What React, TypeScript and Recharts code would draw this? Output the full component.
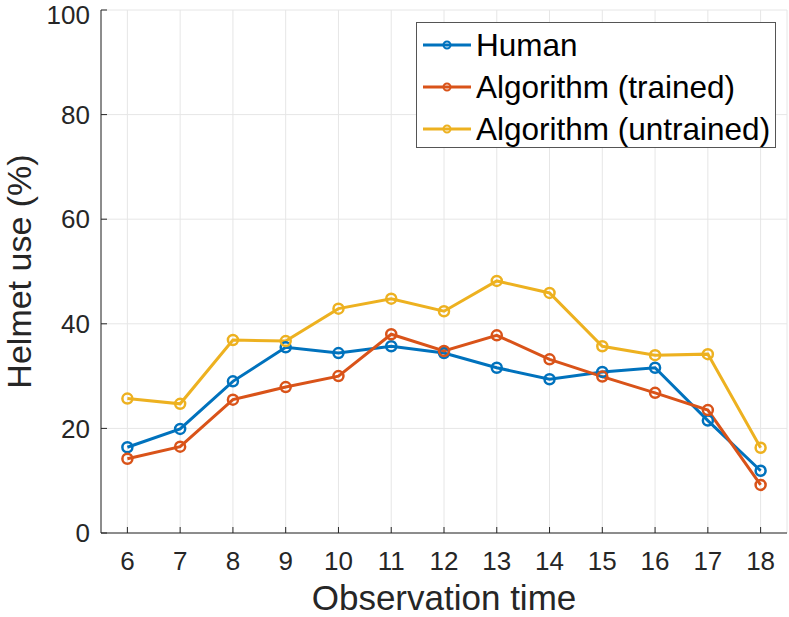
import { CartesianGrid, Legend, Line, LineChart, XAxis, YAxis } from 'recharts';

const times = [6, 7, 8, 9, 10, 11, 12, 13, 14, 15, 16, 17, 18];
const human = [16.4, 19.9, 29.0, 35.5, 34.4, 35.7, 34.4, 31.6, 29.4, 30.8, 31.6, 21.5, 11.9];
const trained = [14.2, 16.5, 25.5, 27.9, 30.0, 38.0, 34.8, 37.8, 33.2, 29.9, 26.8, 23.5, 9.2];
const untrained = [25.7, 24.7, 36.9, 36.7, 42.9, 44.8, 42.4, 48.2, 45.9, 35.7, 34.0, 34.2, 16.3];
const yTicks = [0, 20, 40, 60, 80, 100];

const series = [
  { key: 'human', name: 'Human', color: '#0072BD' },
  { key: 'trained', name: 'Algorithm (trained)', color: '#D95319' },
  { key: 'untrained', name: 'Algorithm (untrained)', color: '#EDB120' },
];

const data = times.map((t, i) => ({ t, human: human[i], trained: trained[i], untrained: untrained[i] }));

const FONT = '"Liberation Sans", Arial, Helvetica, sans-serif';
const AX = '#262626';

const renderYLabel = (props: any) => {
  const vb = props.viewBox;
  const cx = vb.x + 31;
  const cy = vb.y + vb.height / 2;
  return (
    <text x={cx} y={cy} transform={`rotate(-90, ${cx}, ${cy})`} textAnchor="middle" fontSize={34} fill={AX} fontFamily={FONT}>
      Helmet use (%)
    </text>
  );
};

const renderXLabel = (props: any) => {
  const vb = props.viewBox;
  return (
    <text x={vb.x + vb.width / 2} y={vb.y + 77} textAnchor="middle" fontSize={35} fill={AX} fontFamily={FONT}>
      Observation time
    </text>
  );
};

// legend drawn from our own series list so the order stays as in the figure
const renderLegend = () => (
  <div style={{ width: 358, height: 123, border: '1px solid #555', background: '#fff', paddingTop: 1, fontFamily: FONT, boxSizing: 'content-box' }}>
    {series.map((s) => (
      <div key={s.key} style={{ display: 'flex', alignItems: 'center', height: 42 }}>
        <svg width={48} height={12} style={{ marginLeft: 6, marginRight: 5 }}>
          <line x1={0} y1={6} x2={48} y2={6} stroke={s.color} strokeWidth={3} />
          <circle cx={24} cy={6} r={3.5} fill="none" stroke={s.color} strokeWidth={2} />
        </svg>
        <span style={{ fontSize: 31.5, color: '#000', lineHeight: '42px', whiteSpace: 'nowrap' }}>{s.name}</span>
      </div>
    ))}
  </div>
);

export default function App() {
  return (
    <div style={{ position: 'absolute', left: 0, top: 0, background: '#fff' }}>
      <LineChart width={789} height={617} data={data} margin={{ top: 10, right: 2, bottom: 0, left: 0 }}>
        <CartesianGrid xAxisId="x" yAxisId="y" stroke="#e6e6e6" strokeWidth={1} />
        <XAxis
          xAxisId="x"
          dataKey="t"
          type="number"
          domain={[5.5, 18.5]}
          ticks={times}
          height={84}
          stroke={AX}
          tickSize={-6}
          tickMargin={25}
          tick={{ fontSize: 26, fill: AX, fontFamily: FONT }}
          label={renderXLabel}
        />
        <XAxis
          xAxisId="xt"
          orientation="top"
          dataKey="t"
          type="number"
          domain={[5.5, 18.5]}
          ticks={times}
          height={0}
          stroke={AX}
          tickSize={-6}
          tickFormatter={() => ''}
        />
        <YAxis
          yAxisId="y"
          type="number"
          domain={[0, 100]}
          ticks={yTicks}
          width={101}
          stroke={AX}
          tickSize={-6}
          tickMargin={17}
          tick={{ fontSize: 26, fill: AX, fontFamily: FONT }}
          label={renderYLabel}
        />
        <YAxis
          yAxisId="yr"
          orientation="right"
          type="number"
          domain={[0, 100]}
          ticks={yTicks}
          width={0}
          stroke={AX}
          tickSize={-6}
          tickFormatter={() => ''}
        />
        {series.map((s) => (
          <Line
            key={s.key}
            xAxisId="x"
            yAxisId="y"
            dataKey={s.key}
            name={s.name}
            stroke={s.color}
            strokeWidth={3}
            dot={{ r: 5, fill: 'none', stroke: s.color, strokeWidth: 2.5 }}
            activeDot={false}
            isAnimationActive={false}
          />
        ))}
        <Legend
          layout="vertical"
          align="center"
          verticalAlign="middle"
          content={renderLegend}
          wrapperStyle={{ left: 416, top: 22, width: 360 }}
        />
      </LineChart>
    </div>
  );
}
